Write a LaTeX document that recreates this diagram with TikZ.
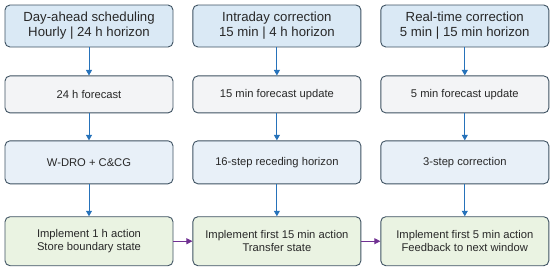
\documentclass[tikz,border=0pt]{standalone}
\usepackage{fontspec}
\setmainfont{Liberation Sans}
\usepackage{xcolor}
\usepackage{tikz}
\usetikzlibrary{arrows.meta,positioning}
\definecolor{headbg}{RGB}{218,233,245}
\definecolor{fcbg}{RGB}{243,244,246}
\definecolor{optbg}{RGB}{232,240,248}
\definecolor{actbg}{RGB}{234,243,226}
\definecolor{edge}{RGB}{62,82,98}
\definecolor{inktext}{RGB}{40,40,40}
\definecolor{flowblue}{RGB}{38,114,186}
\definecolor{linkpurple}{RGB}{112,48,146}

\begin{document}
\begin{tikzpicture}[
    x=1pt,y=1pt,
    node distance=28pt and 19pt,
    box/.style={draw=edge,line width=0.9pt,rounded corners=5pt,align=center,text=inktext,minimum width=168pt,font=\fontsize{11.2}{13}\selectfont},
    head/.style={box,fill=headbg,minimum height=42pt,font=\fontsize{13.2}{15}\selectfont},
    fc/.style={box,fill=fcbg,minimum height=37pt},
    opt/.style={box,fill=optbg,minimum height=43pt},
    act/.style={box,fill=actbg,minimum height=49pt},
    arrow/.style={-{Triangle[length=5.5pt,width=6pt]},line width=0.9pt,draw=flowblue},
    link/.style={-{Triangle[length=6pt,width=6pt]},line width=0.9pt,draw=linkpurple}
  ]
    \useasboundingbox (0,0) rectangle (550,-269);

    \node[head] (day) at (89,-26) {Day-ahead scheduling\\Hourly | 24 h horizon};
    \node[head,right=of day] (intra) {Intraday correction\\15 min | 4 h horizon};
    \node[head,right=of intra] (rt) {Real-time correction\\5 min | 15 min horizon};

    \node[fc,below=28pt of day] (dayfc) {24 h forecast};
    \node[fc,below=28pt of intra] (intrafc) {15 min forecast update};
    \node[fc,below=28pt of rt] (rtfc) {5 min forecast update};

    \node[opt,below=27pt of dayfc] (dayopt) {W-DRO + C\&CG};
    \node[opt,below=27pt of intrafc] (intraopt) {16-step receding horizon};
    \node[opt,below=27pt of rtfc] (rtopt) {3-step correction};

    \node[act,below=32pt of dayopt] (dayact) {Implement 1 h action\\Store boundary state};
    \node[act,below=32pt of intraopt] (intraact) {Implement first 15 min action\\Transfer state};
    \node[act,below=32pt of rtopt] (rtact) {Implement first 5 min action\\Feedback to next window};

    \foreach \c in {day,intra,rt} {
      \draw[arrow] (\c) -- (\c fc);
      \draw[arrow] (\c fc) -- (\c opt);
      \draw[arrow] (\c opt) -- (\c act);
    }

    \draw[link] (dayact) -- (intraact);
    \draw[link] (intraact) -- (rtact);
  \end{tikzpicture}
\end{document}
